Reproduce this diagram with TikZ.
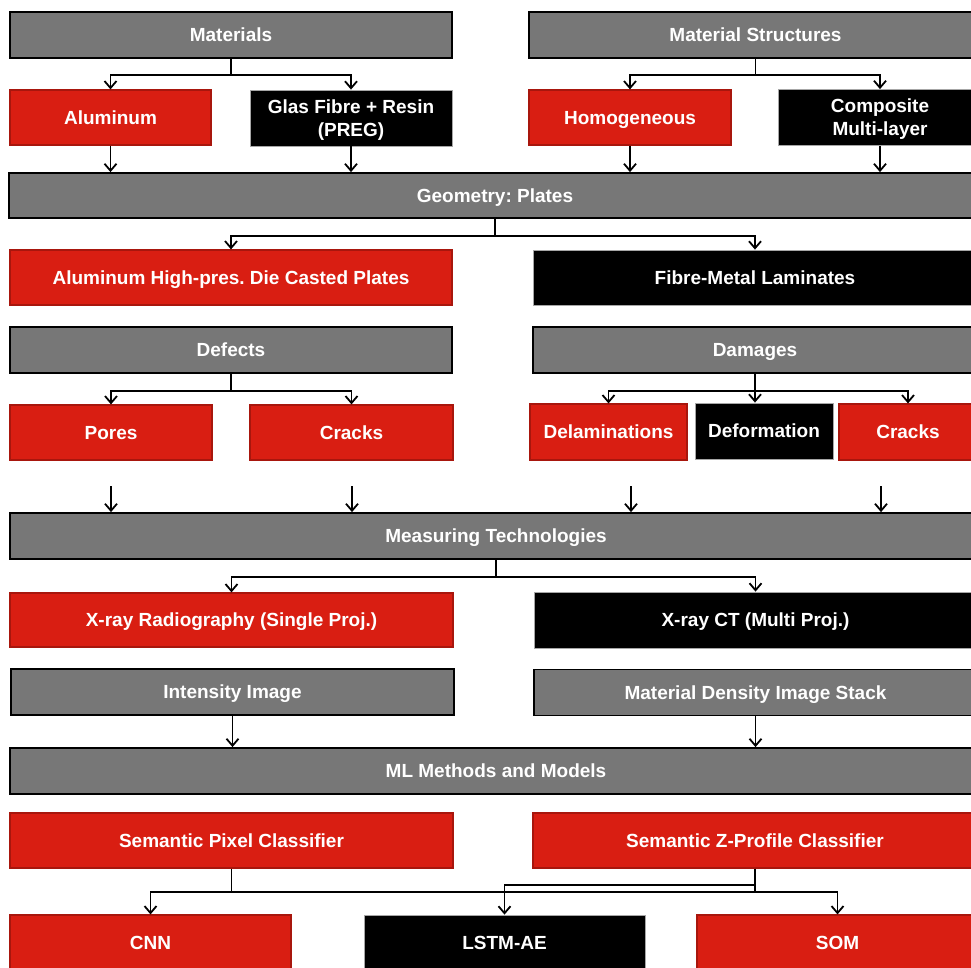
\documentclass[tikz,border=0pt]{standalone}
\usepackage{fontspec}
\setmainfont{Liberation Sans}
\usetikzlibrary{arrows.meta}
\definecolor{boxred}{HTML}{D91E12}
\definecolor{boxredline}{HTML}{A8160D}
\definecolor{boxgray}{HTML}{777777}
\frenchspacing
\begin{document}
\begin{tikzpicture}[x=1pt,y=-1pt,
  base/.style={rectangle,inner sep=0pt,align=center,text=white,
    text height=13.8pt,text depth=0pt,
    font=\fontsize{19}{23}\selectfont\bfseries},
  twolines/.style={text height=36.8pt},
  graybox/.style={base,fill=boxgray,draw=black,line width=1.8pt},
  redbox/.style={base,fill=boxred,draw=boxredline,line width=1.2pt},
  blackbox/.style={base,fill=black,draw=black!35,line width=0.8pt},
  conn/.style={line width=1.9pt,draw=black},
  arr/.style={conn,-{Straight Barb[length=7pt,width=12pt,line width=1.8pt]}}]
\useasboundingbox (0,0) rectangle (971,967);
\clip (0,0) rectangle (971,967);

% materials and structures
\node[graybox,minimum width=442pt,minimum height=46pt] (mat) at (231,35) {Materials};
\node[graybox,minimum width=453pt,minimum height=46pt] (mstr) at (755.5,35) {Material Structures};
\node[redbox,minimum width=201pt,minimum height=55pt] (alu) at (110.5,117.5) {Aluminum};
\node[blackbox,twolines,minimum width=202pt,minimum height=56pt] (glas) at (351,118) {Glas Fibre + Resin\\(PREG)};
\node[redbox,minimum width=202pt,minimum height=55pt] (homo) at (630,117.5) {Homogeneous};
\node[blackbox,twolines,minimum width=204pt,minimum height=56pt] (comp) at (880,117.5) {Composite\\Multi-layer};

% geometry
\node[graybox,minimum width=972pt,minimum height=45pt] (geo) at (495,195.5) {Geometry: Plates};
\node[redbox,minimum width=442pt,minimum height=55pt] (ahp) at (231,277.5) {Aluminum High-pres. Die Casted Plates};
\node[blackbox,minimum width=444pt,minimum height=55pt] (fml) at (755,277.5) {Fibre-Metal Laminates};

% defects and damages
\node[graybox,minimum width=442pt,minimum height=46pt] (def) at (231,350) {Defects};
\node[graybox,minimum width=444pt,minimum height=46pt] (dam) at (755,350) {Damages};
\node[redbox,minimum width=202pt,minimum height=55pt] (pores) at (111,432.5) {Pores};
\node[redbox,minimum width=203pt,minimum height=55pt] (crka) at (351.5,432.5) {Cracks};
\node[redbox,minimum width=157pt,minimum height=56pt] (delam) at (608.5,432) {Delaminations};
\node[blackbox,minimum width=138pt,minimum height=56pt] (deform) at (764,431) {Deformation};
\node[redbox,minimum width=138pt,minimum height=56pt] (crkb) at (908,432) {Cracks};

% measuring
\node[graybox,minimum width=972pt,minimum height=46pt] (meas) at (496,536) {Measuring Technologies};
\node[redbox,minimum width=443pt,minimum height=54pt] (xrr) at (231.5,620) {X-ray Radiography (Single Proj.)};
\node[blackbox,minimum width=443pt,minimum height=56pt] (xct) at (755.5,620) {X-ray CT (Multi Proj.)};
\node[graybox,minimum width=443pt,minimum height=46pt] (inten) at (232.5,692) {Intensity Image};
\node[graybox,minimum width=443pt,minimum height=46pt] (mdis) at (755.5,692.5) {Material Density Image Stack};

% machine learning
\node[graybox,minimum width=972pt,minimum height=46pt] (ml) at (496,771) {ML Methods and Models};
\node[redbox,minimum width=443pt,minimum height=55pt] (spc) at (231.5,840.5) {Semantic Pixel Classifier};
\node[redbox,minimum width=444pt,minimum height=55pt] (szp) at (755,840.5) {Semantic Z-Profile Classifier};
\node[redbox,minimum width=281pt,minimum height=55pt] (cnn) at (150.5,942.5) {CNN};
\node[blackbox,minimum width=281pt,minimum height=55pt] (lstm) at (504.5,942.5) {LSTM-AE};
\node[redbox,minimum width=281pt,minimum height=55pt] (som) at (837.5,942.5) {SOM};

% connectors: materials
\draw[conn] (mat.south) -- ++(0,16) coordinate (matj);
\draw[arr] (matj) -| (alu.north);
\draw[arr] (matj) -| (glas.north);
\draw[conn] (mstr.south) -- ++(0,16) coordinate (mstrj);
\draw[arr] (mstrj) -| (homo.north);
\draw[arr] (mstrj) -| (comp.north);
\draw[arr] (alu.south) -- (alu.south |- geo.north);
\draw[arr] (glas.south) -- (glas.south |- geo.north);
\draw[arr] (homo.south) -- (homo.south |- geo.north);
\draw[arr] (comp.south) -- (comp.south |- geo.north);

% connectors: geometry
\draw[conn] (geo.south) -- ++(0,17) coordinate (geoj);
\draw[arr] (geoj) -| (ahp.north);
\draw[arr] (geoj) -| (fml.north);

% connectors: defects and damages
\draw[conn] (def.south) -- ++(0,17) coordinate (defj);
\draw[arr] (defj) -| (pores.north);
\draw[arr] (defj) -| (crka.north);
\draw[conn] (dam.south) -- ++(0,17) coordinate (damj);
\draw[arr] (damj) -| (delam.north);
\draw[arr] (damj) -| (crkb.north);
\draw[arr] (dam.south) -- (dam.south |- deform.north);

% arrows into the measuring bar
\coordinate (ma) at (111,486);
\coordinate (mb) at (352,486);
\coordinate (mc) at (631,486);
\coordinate (md) at (881,486);
\foreach \c in {ma,mb,mc,md} \draw[arr] (\c) -- (\c |- meas.north);

% connectors: measuring
\draw[conn] (meas.south) -- ++(0,17) coordinate (measj);
\draw[arr] (measj) -| (xrr.north);
\draw[arr] (measj) -| (xct.north);
\draw[arr] (inten.south) -- (inten.south |- ml.north);
\draw[arr] (mdis.south) -- (mdis.south |- ml.north);

% connectors: classifiers to models
\draw[conn] (spc.south) -- ++(0,23) coordinate (spcj);
\draw[arr] (spcj) -| (cnn.north);
\draw[arr] (spcj) -| (som.north);
\draw[conn] (szp.south) -- (szp.south |- spcj);
\draw[conn] (szp.south) -- ++(0,16) coordinate (szpj);
\draw[arr] (szpj) -| (lstm.north);
\end{tikzpicture}
\end{document}
